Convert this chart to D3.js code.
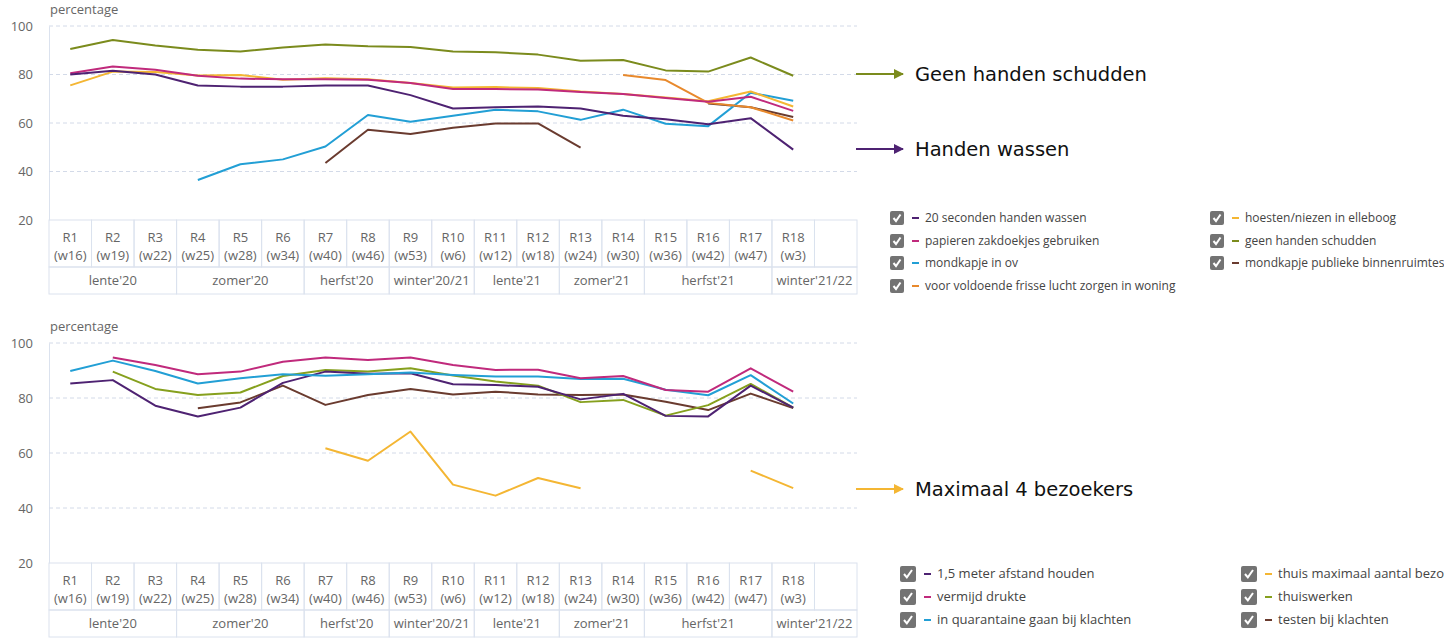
<!DOCTYPE html>
<html>
<head>
<meta charset="utf-8">
<script src="https://cdn.jsdelivr.net/npm/d3@7"></script>
<style>
    body { margin: 0; background: #fff; }
    svg { display: block; }
    .tick-label { font-family: "Open Sans", sans-serif; font-size: 13px; fill: #666; }
    .cat-label { font-family: "Open Sans", sans-serif; font-size: 13px; fill: #666; }
    .legend-label { font-family: "Open Sans", sans-serif; font-size: 12px; fill: #444; }
    .legend-label.big { font-size: 13px; }
    .note { font-family: "DejaVu Sans", Verdana, sans-serif; font-size: 19.5px; fill: #111; }
    .grid { stroke: #d3dae8; stroke-dasharray: 4 3; }
    .cell { stroke: #dbe2ee; fill: none; }
    .line { fill: none; stroke-width: 2; stroke-linejoin: round; }
</style>
</head>
<body>
<svg id="chart" width="1444" height="638"></svg>
<script>
// categories
const rounds = ["R1","R2","R3","R4","R5","R6","R7","R8","R9","R10","R11","R12","R13","R14","R15","R16","R17","R18",""];
const weeks = ["(w16)","(w19)","(w22)","(w25)","(w28)","(w34)","(w40)","(w46)","(w53)","(w6)","(w12)","(w18)","(w24)","(w30)","(w36)","(w42)","(w47)","(w3)",""];
const seasons = ["lente'20","zomer'20","herfst'20","winter'20/21","lente'21","zomer'21","herfst'21","winter'21/22"];
const seasonSpans = [3, 3, 2, 2, 2, 2, 3, 2];
const yTicks = [20, 40, 60, 80, 100];

// top chart series
const handenWassen = [80,81.5,80,75.5,75,75,75.5,75.5,71.5,66,66.5,66.8,66,63,61.5,59.5,62,49];
const zakdoekjes = [80.5,83.3,82,79.5,78.3,78,78,77.8,76.5,74,74,73.8,72.8,72,70.3,68.8,70.8,65];
const mondkapjeOv = [null,null,null,36.5,43,45,50.3,63.3,60.5,63,65.5,64.8,61.3,65.5,59.7,58.7,72.5,69.2];
const frisseLucht = [null,null,null,null,null,null,null,null,null,null,null,null,null,79.8,77.7,68.3,66.5,61];
const elleboog = [75.5,81.2,81,79.6,79.8,77.8,78.5,78,76.5,74.6,74.8,74.4,73,72,70.5,69,73,66.8];
const geenHanden = [90.5,94.2,92,90.2,89.5,91.1,92.4,91.6,91.3,89.5,89.2,88.2,85.7,86,81.7,81.2,87,79.5];
const binnenruimtes = [null,null,null,null,null,null,43.5,57.2,55.5,58,59.8,59.8,49.8,null,null,68,66.5,62.5];

// bottom chart series
const afstand = [85.3,86.5,77.2,73.3,76.5,85.5,89.6,88.8,89,85,84.7,84.1,79.5,81.5,73.5,73.3,84.5,76.5];
const drukte = [null,94.7,92,88.6,89.6,93.2,94.7,93.8,94.7,92,90.2,90.3,87.2,88,82.9,82.3,90.8,82.3];
const quarantaine = [89.8,93.6,89.8,85.3,87.2,88.6,88.1,88.6,89.3,88.4,87.8,87.8,86.9,87,83,81,88.3,78];
const bezoekers = [null,null,null,null,null,null,61.7,57.2,67.8,48.5,44.5,50.9,47.2,null,null,null,53.6,47.2];
const thuiswerken = [null,89.6,83.3,81.1,82,88,90.2,89.6,90.8,88.2,86,84.5,78.5,79.3,73.6,77.4,85.1,76.5];
const testen = [null,null,null,76.3,78.4,84.5,77.5,81.1,83.3,81.3,82.3,81.3,81.1,81.3,78.6,75.6,81.6,76.3];

const topSeries = [
    {name: "20 seconden handen wassen", values: handenWassen, color: "#4e2272"},
    {name: "papieren zakdoekjes gebruiken", values: zakdoekjes, color: "#c02a7c"},
    {name: "mondkapje in ov", values: mondkapjeOv, color: "#229fd5"},
    {name: "voor voldoende frisse lucht zorgen in woning", values: frisseLucht, color: "#e8892c"},
    {name: "hoesten/niezen in elleboog", values: elleboog, color: "#f4b633"},
    {name: "geen handen schudden", values: geenHanden, color: "#7b8b1d"},
    {name: "mondkapje publieke binnenruimtes", values: binnenruimtes, color: "#6a3b2f"}
];
// draw order: back to front
const topOrder = [6, 2, 3, 4, 1, 0, 5];

const bottomSeries = [
    {name: "1,5 meter afstand houden", values: afstand, color: "#4e2272"},
    {name: "vermijd drukte", values: drukte, color: "#c02a7c"},
    {name: "in quarantaine gaan bij klachten", values: quarantaine, color: "#229fd5"},
    {name: "thuis maximaal aantal bezoekers", values: bezoekers, color: "#f4b633"},
    {name: "thuiswerken", values: thuiswerken, color: "#86a01e"},
    {name: "testen bij klachten", values: testen, color: "#6a3b2f"}
];
const bottomOrder = [3, 5, 4, 0, 2, 1];

const svg = d3.select("#chart");

class panelChart {
    constructor(item) {
        this.g = svg.append("g");
        this.top = item.top;
        this.bottom = item.bottom;
        this.series = item.series;
        this.order = item.order;
        this.rowH = item.rowH;
        this.init();
        this.add_axis();
        this.build_table();
        this.build_lines();
    }

    init() {
        this.scale_x = d3.scaleBand()
            .domain(d3.range(rounds.length))
            .range([49, 857])
            .padding(0);
        this.scale_y = d3.scaleLinear()
            .domain([20, 100])
            .range([this.bottom, this.top]);
        this.line = d3.line()
            .defined(d => d != null)
            .x((d, i) => this.scale_x(i) + this.scale_x.bandwidth() / 2)
            .y(d => this.scale_y(d));
    }

    add_axis() {
        const axis_y = d3.axisLeft(this.scale_y)
            .tickValues(yTicks)
            .tickSize(0)
            .tickPadding(16);
        const ax = this.g.append("g")
            .attr("transform", "translate(49,0)")
            .call(axis_y);
        ax.select(".domain").attr("stroke", "#dbe2ee");
        ax.selectAll("text").attr("class", "tick-label").attr("font-family", null).attr("font-size", null);

        this.g.selectAll(".grid")
            .data(yTicks.filter(d => d > 20))
            .join("line")
            .attr("class", "grid")
            .attr("x1", 49)
            .attr("x2", 857)
            .attr("y1", d => this.scale_y(d))
            .attr("y2", d => this.scale_y(d));

        this.g.append("text")
            .attr("class", "tick-label")
            .attr("x", 50)
            .attr("y", this.top - 12)
            .text("percentage");
    }

    build_table() {
        const x = this.scale_x, bw = x.bandwidth();
        const y0 = this.bottom, y1 = y0 + this.rowH[0], y2 = y1 + this.rowH[1];

        this.g.selectAll(".round-cell")
            .data(rounds)
            .join("rect")
            .attr("class", "cell")
            .attr("x", (d, i) => x(i))
            .attr("y", y0)
            .attr("width", bw)
            .attr("height", y1 - y0);

        this.g.selectAll(".round-label")
            .data(rounds)
            .join("text")
            .attr("class", "cat-label")
            .attr("text-anchor", "middle")
            .attr("x", (d, i) => x(i) + bw / 2)
            .attr("y", y0 + 22)
            .text(d => d);

        this.g.selectAll(".week-label")
            .data(weeks)
            .join("text")
            .attr("class", "cat-label")
            .attr("text-anchor", "middle")
            .attr("x", (d, i) => x(i) + bw / 2)
            .attr("y", y0 + 40)
            .text(d => d);

        const starts = seasonSpans.map((s, i) => d3.sum(seasonSpans.slice(0, i)));
        this.g.selectAll(".season-cell")
            .data(seasons)
            .join("rect")
            .attr("class", "cell")
            .attr("x", (d, i) => x(starts[i]))
            .attr("y", y1)
            .attr("width", (d, i) => seasonSpans[i] * bw)
            .attr("height", y2 - y1);

        this.g.selectAll(".season-label")
            .data(seasons)
            .join("text")
            .attr("class", "cat-label")
            .attr("text-anchor", "middle")
            .attr("x", (d, i) => x(starts[i]) + seasonSpans[i] * bw / 2)
            .attr("y", y1 + 18)
            .text(d => d);
    }

    build_lines() {
        this.g.selectAll(".line")
            .data(this.order.map(i => this.series[i]))
            .join("path")
            .attr("class", "line")
            .attr("stroke", d => d.color)
            .attr("d", d => this.line(d.values));
    }
}

new panelChart({top: 26, bottom: 220, rowH: [47, 27], series: topSeries, order: topOrder});
new panelChart({top: 343, bottom: 563, rowH: [47, 27], series: bottomSeries, order: bottomOrder});

// legends
function legend(items, cols, rowY, box, cls) {
    const g = svg.append("g");
    items.forEach((d, i) => {
        const c = cols[d.col];
        const y = rowY[d.row];
        g.append("rect")
            .attr("x", c).attr("y", y - box / 2)
            .attr("width", box).attr("height", box)
            .attr("rx", 2)
            .attr("fill", "#737373");
        const s = box / 14;
        g.append("path")
            .attr("d", `M${c + 3.5 * s},${y} L${c + 6 * s},${y + 3 * s} L${c + 10.5 * s},${y - 3.5 * s}`)
            .attr("fill", "none")
            .attr("stroke", "#fff")
            .attr("stroke-width", 2);
        g.append("line")
            .attr("x1", c + box + 8).attr("x2", c + box + 15)
            .attr("y1", y).attr("y2", y)
            .attr("stroke", d.color)
            .attr("stroke-width", 2);
        g.append("text")
            .attr("class", cls)
            .attr("x", c + box + 21)
            .attr("y", y + 4)
            .text(d.name);
    });
}

legend(topSeries.map((d, i) => ({...d, col: i < 4 ? 0 : 1, row: i < 4 ? i : i - 4})),
    [890, 1210], [218, 241, 263, 286], 14, "legend-label");
legend(bottomSeries.map((d, i) => ({...d, col: i < 3 ? 0 : 1, row: i < 3 ? i : i - 3})),
    [900, 1241], [574, 597, 620], 16, "legend-label big");

// annotations
const notes = [
    {text: "Geen handen schudden", color: "#7b8b1d", y: 74},
    {text: "Handen wassen", color: "#4e2272", y: 149},
    {text: "Maximaal 4 bezoekers", color: "#f4b633", y: 489}
];
const defs = svg.append("defs");
notes.forEach((n, i) => {
    defs.append("marker")
        .attr("id", "arrow" + i)
        .attr("viewBox", "0 0 10 10")
        .attr("refX", 9).attr("refY", 5)
        .attr("markerWidth", 10).attr("markerHeight", 10)
        .attr("markerUnits", "userSpaceOnUse")
        .attr("orient", "auto")
        .append("path")
        .attr("d", "M0,0 L10,5 L0,10 z")
        .attr("fill", n.color);
    svg.append("line")
        .attr("x1", 856).attr("x2", 903)
        .attr("y1", n.y).attr("y2", n.y)
        .attr("stroke", n.color)
        .attr("stroke-width", 2)
        .attr("marker-end", `url(#arrow${i})`);
    svg.append("text")
        .attr("class", "note")
        .attr("x", 915)
        .attr("y", n.y + 7)
        .text(n.text);
});
</script>
</body>
</html>
